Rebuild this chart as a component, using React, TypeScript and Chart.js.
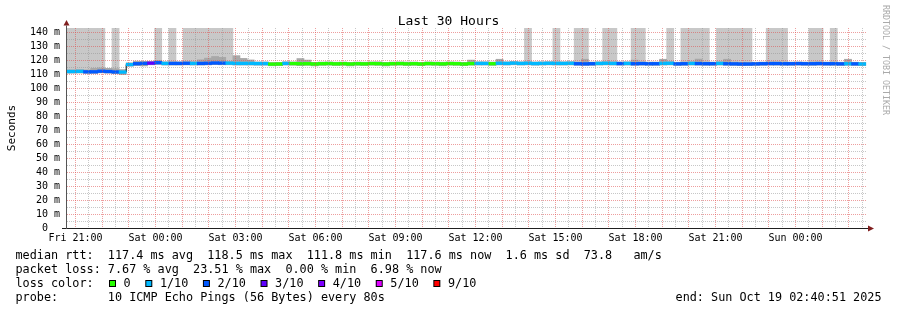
import React, { useEffect, useRef } from 'react';
import { Chart, registerables } from 'chart.js';

Chart.register(...registerables);

// ---------------- data ----------------
// time axis in minutes after graph start (Fri 20:40:51), 16 min consolidation steps
const stepMinutes = 16;
const firstStepStart = -10.8;
const graphSpanMinutes = 1800;
const yMax = 143.4;

const medianRtt = [
  112.2, 112.2, 112.3, 112.0, 112.0, 112.4, 112.2, 111.9, 111.8, 117.2,
  117.8, 118.0, 118.2, 118.5, 118.0, 118.0, 118.0, 118.1, 118.0, 118.0,
  118.1, 118.3, 118.2, 118.2, 118.0, 118.0, 118.0, 117.9, 117.9, 117.5,
  117.6, 118.0, 117.9, 117.8, 117.8, 117.6, 117.8, 117.9, 117.7, 117.8,
  117.6, 117.8, 117.7, 117.9, 117.8, 117.6, 117.8, 117.9, 117.7, 117.8,
  117.6, 117.9, 117.8, 117.7, 117.9, 117.8, 117.6, 117.9, 118.0, 118.0,
  117.8, 118.1, 118.0, 118.2, 118.0, 118.1, 117.9, 118.0, 118.1, 118.0,
  118.0, 118.1, 117.8, 117.7, 117.8, 118.0, 118.1, 118.0, 117.9, 118.0,
  117.8, 117.9, 117.8, 117.8, 118.0, 118.1, 117.7, 117.8, 118.0, 117.9,
  117.8, 117.8, 118.0, 117.8, 117.7, 117.6, 117.6, 117.7, 117.8, 117.9,
  117.9, 117.8, 117.8, 117.9, 117.8, 117.8, 117.9, 117.8, 117.8, 117.7,
  117.8, 117.7, 117.6,
];

const smokeTop = [
  113.4, 113.4, 113.6, 113.4, 114.5, 114.8, 114.5, 114.2, 113.6, 118.4,
  119.6, 119.5, 119.4, 120.2, 119.2, 119.2, 119.2, 119.3, 119.2, 120.6,
  121.8, 123.0, 122.4, 119.4, 123.6, 121.6, 120.5, 119.1, 119.1, 118.7,
  118.8, 119.2, 119.1, 121.5, 120.4, 118.8, 119.0, 119.1, 118.9, 119.0,
  118.8, 119.0, 118.9, 119.1, 119.2, 118.8, 119.0, 119.1, 119.0, 119.0,
  118.8, 119.1, 119.0, 118.9, 119.1, 119.0, 118.8, 120.4, 119.2, 119.2,
  119.0, 121.0, 119.2, 119.4, 119.2, 119.3, 119.1, 119.2, 119.3, 119.2,
  119.2, 119.3, 119.0, 121.0, 119.0, 119.2, 119.3, 119.2, 119.1, 119.2,
  120.4, 119.1, 119.0, 119.0, 121.0, 119.3, 118.9, 119.0, 119.2, 121.1,
  119.0, 119.0, 119.2, 121.0, 118.9, 118.8, 118.8, 118.9, 119.0, 119.1,
  119.1, 119.0, 119.0, 119.1, 119.0, 119.0, 119.1, 119.0, 119.0, 118.9,
  121.0, 118.9, 118.8,
];

const smokeBottom = [
  111.0, 111.0, 111.1, 110.8, 110.8, 111.2, 111.0, 110.6, 110.0, 116.0,
  116.4, 116.2, 117.0, 117.3, 116.8, 116.8, 116.8, 116.9, 116.8, 116.8,
  116.9, 117.1, 117.0, 117.0, 116.8, 116.8, 116.8, 116.7, 116.7, 116.3,
  116.4, 116.8, 116.7, 116.4, 116.6, 116.2, 116.6, 116.7, 116.5, 116.6,
  116.2, 116.6, 116.5, 116.7, 116.6, 116.2, 116.6, 116.7, 116.5, 116.6,
  116.4, 116.7, 116.6, 116.3, 116.7, 116.6, 116.4, 116.7, 116.8, 116.8,
  116.6, 116.9, 116.8, 117.0, 116.8, 116.9, 116.7, 116.8, 116.9, 116.8,
  116.8, 116.9, 116.6, 116.5, 116.6, 116.8, 116.9, 116.8, 116.7, 116.8,
  116.6, 116.7, 116.6, 116.6, 116.8, 116.9, 116.5, 116.6, 116.8, 116.7,
  116.6, 116.6, 116.8, 116.6, 116.5, 116.4, 116.4, 116.5, 116.6, 116.7,
  116.7, 116.6, 116.6, 116.7, 116.6, 116.6, 116.7, 116.6, 116.6, 116.5,
  116.6, 116.5, 116.4,
];

const lossPercent = [
  6.5, 5.8, 7.2, 13.5, 14.2, 15.0, 12.8, 13.9, 8.5, 6.0,
  12.5, 11.8, 23.51, 14.6, 7.9, 12.2, 11.5, 13.0, 8.8, 11.9,
  12.6, 14.0, 12.3, 7.1, 5.4, 4.2, 3.3, 2.5, 1.7, 0,
  0, 0.8, 0, 0, 0, 0, 0, 0, 0, 0,
  0, 0, 0, 0, 0, 0, 0, 0, 0, 0,
  0, 0, 0, 0, 0, 0, 0, 0, 2.1, 1.3,
  0, 6.2, 5.6, 7.0, 8.1, 9.5, 7.8, 6.4, 8.9, 9.9,
  7.2, 8.3, 12.1, 14.4, 11.3, 8.3, 9.2, 9.6, 10.8, 7.7,
  13.1, 12.4, 10.9, 11.2, 9.4, 8.9, 11.6, 12.9, 9.8, 13.3,
  12.7, 11.0, 9.5, 13.0, 12.4, 14.8, 13.5, 12.1, 11.6, 13.3,
  14.6, 13.2, 12.5, 11.8, 12.9, 13.8, 14.2, 12.7, 13.6, 12.3,
  9.1, 10.7, 6.98,
];

// 1 = light grey column reaching the top of the graph
const smokeColumn = [
  1, 1, 1, 1, 1, 1, 0, 1, 0, 0,
  0, 0, 0, 1, 0, 1, 0, 1, 1, 1,
  1, 1, 1, 1, 0, 0, 0, 0, 0, 0,
  0, 0, 0, 0, 0, 0, 0, 0, 0, 0,
  0, 0, 0, 0, 0, 0, 0, 0, 0, 0,
  0, 0, 0, 0, 0, 0, 0, 0, 0, 0,
  0, 0, 0, 0, 0, 1, 0, 0, 0, 1,
  0, 0, 1, 1, 0, 0, 1, 1, 0, 0,
  1, 1, 0, 0, 0, 1, 0, 1, 1, 1,
  1, 0, 1, 1, 1, 1, 1, 0, 0, 1,
  1, 1, 0, 0, 0, 1, 1, 0, 1, 0,
  0, 0, 0,
];

const xLabelMinutes = [19.15, 199.15, 379.15, 559.15, 739.15, 919.15, 1099.15, 1279.15, 1459.15, 1639.15];
const xLabelTexts = ['Fri 21:00', 'Sat 00:00', 'Sat 03:00', 'Sat 06:00', 'Sat 09:00', 'Sat 12:00', 'Sat 15:00', 'Sat 18:00', 'Sat 21:00', 'Sun 00:00'];
const yLabelValues = [0, 10, 20, 30, 40, 50, 60, 70, 80, 90, 100, 110, 120, 130, 140];
const yLabelTexts = ['0  ', '10 m', '20 m', '30 m', '40 m', '50 m', '60 m', '70 m', '80 m', '90 m', '100 m', '110 m', '120 m', '130 m', '140 m'];

const lossBinUpper = [0, 10, 20, 30, 40, 50, 90];
const lossColors = ['#26ff00', '#00b8ff', '#0059ff', '#5e00ff', '#7e00ff', '#dd00ff', '#ff0000'];
const lossLabels = ['0', '1/10', '2/10', '3/10', '4/10', '5/10', '9/10'];

const titleText = 'Last 30 Hours';
const yTitleText = 'Seconds';
const watermarkText = 'RRDTOOL / TOBI OETIKER';
const rttLine = 'median rtt:  117.4 ms avg  118.5 ms max  111.8 ms min  117.6 ms now  1.6 ms sd  73.8   am/s';
const lossLine = 'packet loss: 7.67 % avg  23.51 % max  0.00 % min  6.98 % now';
const colorLabel = 'loss color:';
const probeLine = 'probe:       10 ICMP Echo Pings (56 Bytes) every 80s';
const endText = 'end: Sun Oct 19 02:40:51 2025';

// ---------------- styling ----------------
const FONT = '"DejaVu Sans Mono", monospace';
const MAJOR_GRID = 'rgba(222,79,79,0.55)';
const MINOR_GRID = 'rgba(143,143,143,0.5)';

function lossColorIndex(p: number): number {
  if (p <= lossBinUpper[0]) return 0;
  for (let i = 1; i < lossBinUpper.length; i++) if (p <= lossBinUpper[i]) return i;
  return lossBinUpper.length - 1;
}

const decorPlugin = {
  id: 'smokeDecor',
  afterDraw(chart: any) {
    const ctx = chart.ctx as CanvasRenderingContext2D;
    const a = chart.chartArea;
    ctx.save();
    ctx.setLineDash([]);
    // x axis
    ctx.strokeStyle = '#1f1f1f';
    ctx.lineWidth = 1;
    ctx.beginPath();
    ctx.moveTo(a.left - 5, a.bottom + 0.5);
    ctx.lineTo(a.right + 1, a.bottom + 0.5);
    ctx.stroke();
    // y axis
    ctx.strokeStyle = '#555555';
    ctx.beginPath();
    ctx.moveTo(a.left - 0.5, a.bottom + 1);
    ctx.lineTo(a.left - 0.5, a.top - 2.5);
    ctx.stroke();
    // arrows
    ctx.fillStyle = '#801f1f';
    ctx.beginPath();
    ctx.moveTo(a.left - 0.5, a.top - 8);
    ctx.lineTo(a.left - 3.5, a.top - 2.5);
    ctx.lineTo(a.left + 2.5, a.top - 2.5);
    ctx.closePath();
    ctx.fill();
    ctx.beginPath();
    ctx.moveTo(a.right + 7, a.bottom + 0.5);
    ctx.lineTo(a.right + 1, a.bottom - 2.5);
    ctx.lineTo(a.right + 1, a.bottom + 3.5);
    ctx.closePath();
    ctx.fill();

    ctx.fillStyle = '#000';
    ctx.textBaseline = 'alphabetic';
    // title
    ctx.font = `13px ${FONT}`;
    ctx.textAlign = 'center';
    ctx.fillText(titleText, 448.5, 25);
    // y title
    ctx.save();
    ctx.font = `11px ${FONT}`;
    ctx.translate(15, (a.top + a.bottom) / 2);
    ctx.rotate(-Math.PI / 2);
    ctx.textAlign = 'center';
    ctx.fillText(yTitleText, 0, 0);
    ctx.restore();
    // watermark
    ctx.save();
    ctx.font = `8.3px ${FONT}`;
    ctx.fillStyle = '#aaaaaa';
    ctx.translate(883, 5);
    ctx.rotate(Math.PI / 2);
    ctx.textAlign = 'left';
    ctx.fillText(watermarkText, 0, 0);
    ctx.restore();

    // legend block
    ctx.font = `11.8px ${FONT}`;
    ctx.textAlign = 'left';
    ctx.fillStyle = '#000';
    const b1 = 258.5, b2 = 272.7, b3 = 286.9, b4 = 301.1;
    ctx.fillText(rttLine, 15.5, b1);
    ctx.fillText(lossLine, 15.5, b2);
    ctx.fillText(colorLabel, 15.5, b3);
    let bx = 109;
    lossLabels.forEach((lab, i) => {
      ctx.fillStyle = '#000';
      ctx.fillRect(bx, 280, 7, 7);
      ctx.fillStyle = lossColors[i];
      ctx.fillRect(bx + 1, 281, 5, 5);
      ctx.fillStyle = '#000';
      const tx = bx + 14.6;
      ctx.fillText(lab, tx, b3);
      bx = tx + ctx.measureText(lab).width + 14.6;
    });
    ctx.fillText(probeLine, 15.5, b4);
    ctx.textAlign = 'right';
    ctx.fillText(endText, 881.5, b4);
    ctx.restore();
  },
};

export default function App() {
  const canvasRef = useRef<HTMLCanvasElement | null>(null);

  useEffect(() => {
    if (!canvasRef.current) return;
    const centers = medianRtt.map((_, i) => firstStepStart + stepMinutes * (i + 0.5));
    const columnData: any[] = [];
    medianRtt.forEach((m, i) => {
      if (smokeColumn[i]) columnData.push({ x: centers[i], y: [m, yMax] });
    });
    const smokeData = medianRtt.map((_, i) => ({ x: centers[i], y: [smokeBottom[i], smokeTop[i]] }));
    const bandData = medianRtt.map((m, i) => ({ x: centers[i], y: [m - 0.95, m + 0.95] }));
    const bandColors = lossPercent.map((p) => lossColors[lossColorIndex(p)]);
    const lineData = medianRtt.map((m, i) => ({ x: firstStepStart + stepMinutes * i, y: m }));
    lineData.push({ x: firstStepStart + stepMinutes * medianRtt.length, y: medianRtt[medianRtt.length - 1] });

    const barCommon = {
      type: 'bar' as const,
      barPercentage: 1,
      categoryPercentage: 1,
      grouped: false,
      borderWidth: 0,
      clip: 0,
    };

    const chart = new Chart(canvasRef.current, {
      type: 'bar',
      data: {
        datasets: [
          { ...barCommon, label: 'band', data: bandData as any, backgroundColor: bandColors, order: 1 },
          {
            type: 'line',
            label: 'median',
            data: lineData as any,
            borderColor: '#000000',
            borderWidth: 1,
            pointRadius: 0,
            stepped: true,
            fill: false,
            clip: 0,
            order: 2,
          } as any,
          { ...barCommon, label: 'smoke', data: smokeData as any, backgroundColor: '#a8a8a8', order: 3 },
          { ...barCommon, label: 'column', data: columnData as any, backgroundColor: '#c8c8c8', order: 4 },
        ],
      },
      options: {
        responsive: false,
        animation: false,
        devicePixelRatio: 1,
        events: [],
        layout: { padding: { top: 28, right: 30, left: 0, bottom: 0 } },
        plugins: {
          legend: { display: false },
          tooltip: { enabled: false },
          title: { display: false },
        },
        scales: {
          x: {
            type: 'linear',
            min: 0,
            max: graphSpanMinutes,
            offset: false,
            afterBuildTicks: (scale: any) => {
              const t: any[] = [];
              for (let v = xLabelMinutes[0]; v < graphSpanMinutes; v += 30) t.push({ value: v });
              scale.ticks = t;
            },
            afterFit: (scale: any) => {
              scale.height = 82;
            },
            grid: {
              offset: false,
              z: 1,
              lineWidth: 1,
              drawTicks: false,
              color: (c: any) => {
                const v = c.tick ? c.tick.value : 0;
                const k = Math.round((v - xLabelMinutes[0]) / 30);
                return k % 2 === 0 ? MAJOR_GRID : MINOR_GRID;
              },
            },
            border: { display: false, dash: [1, 1] },
            ticks: {
              autoSkip: false,
              maxRotation: 0,
              minRotation: 0,
              padding: 4,
              color: '#000',
              font: { family: FONT, size: 10 },
              callback: (v: any) => {
                const idx = xLabelMinutes.findIndex((m) => Math.abs(m - Number(v)) < 0.01);
                return idx >= 0 ? xLabelTexts[idx] : '';
              },
            },
          },
          y: {
            type: 'linear',
            min: 0,
            max: yMax,
            afterBuildTicks: (scale: any) => {
              const t: any[] = [];
              for (let v = 0; v <= 140; v += 5) t.push({ value: v });
              scale.ticks = t;
            },
            afterFit: (scale: any) => {
              scale.width = 67;
            },
            grid: {
              z: 1,
              lineWidth: 1,
              drawTicks: false,
              color: (c: any) => (c.tick && c.tick.value % 10 === 0 ? MAJOR_GRID : MINOR_GRID),
            },
            border: { display: false, dash: [1, 1] },
            ticks: {
              autoSkip: false,
              padding: 7,
              color: '#000',
              font: { family: FONT, size: 10 },
              callback: (v: any) => {
                const idx = yLabelValues.indexOf(Number(v));
                return idx >= 0 ? yLabelTexts[idx] : '';
              },
            },
          },
        },
      } as any,
      plugins: [decorPlugin],
    });
    return () => chart.destroy();
  }, []);

  return (
    <div style={{ position: 'fixed', left: 0, top: 0, width: 897, height: 310, background: '#fff' }}>
      <canvas ref={canvasRef} width={897} height={310} style={{ display: 'block' }} />
    </div>
  );
}
